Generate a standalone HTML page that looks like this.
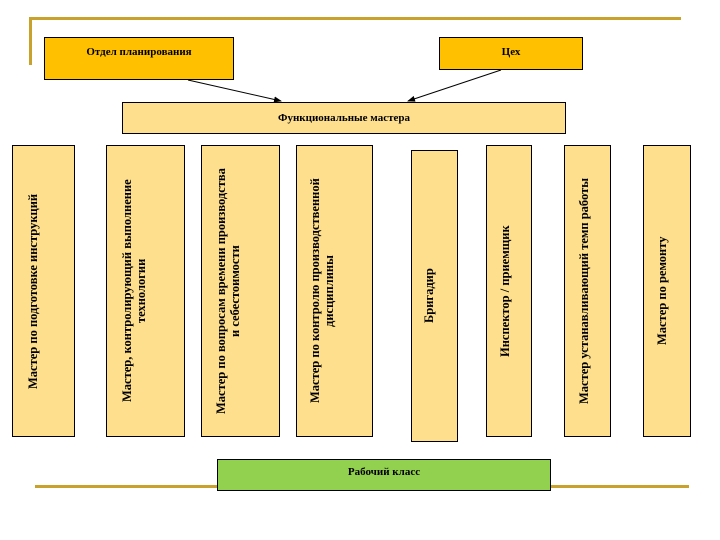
<!DOCTYPE html>
<html><head><meta charset="utf-8"><style>
body{margin:0;width:720px;height:540px;background:#fff;position:relative;overflow:hidden;font-family:"Liberation Serif",serif;}
.a{position:absolute;box-sizing:border-box;border:1px solid #000;}
.t{font-weight:bold;font-size:11px;color:#000;text-align:center;}
.c{position:absolute;box-sizing:border-box;border:1px solid #000;background:#FEDF8D;}
.v{position:absolute;top:0;bottom:0;writing-mode:vertical-rl;transform:rotate(180deg);text-align:center;font-weight:bold;font-size:12.5px;line-height:14px;display:flex;align-items:center;justify-content:center;}
.g{position:absolute;background:#C8A22C;}
</style></head><body>
<div class="g" style="left:30px;top:17px;width:651px;height:3px"></div>
<div class="g" style="left:29px;top:17px;width:3px;height:48px"></div>
<div class="g" style="left:35px;top:485px;width:654px;height:3px"></div>

<div class="a t" style="left:44px;top:37px;width:190px;height:43px;background:#FFC000;padding-top:8px">Отдел планирования</div>
<div class="a t" style="left:439px;top:37px;width:144px;height:33px;background:#FFC000;padding-top:8px">Цех</div>
<div class="a t" style="left:122px;top:102px;width:444px;height:32px;background:#FEDF8D;padding-top:9px">Функциональные мастера</div>

<svg style="position:absolute;left:0;top:0" width="720" height="540">
<defs><marker id="m" markerWidth="8" markerHeight="6" refX="7" refY="3" orient="auto"><path d="M0,0 L8,3 L0,6 z" fill="#000"/></marker></defs>
<line x1="188" y1="80" x2="281" y2="101" stroke="#000" stroke-width="1" marker-end="url(#m)"/>
<line x1="501" y1="70" x2="408" y2="101" stroke="#000" stroke-width="1" marker-end="url(#m)"/>
</svg>

<div class="c" style="left:12px;top:145px;width:63px;height:292px"><div class="v" style="left:10px;width:20px">Мастер по подготовке инструкций</div></div>
<div class="c" style="left:106px;top:145px;width:79px;height:292px"><div class="v" style="left:10px;width:34px">Мастер, контролирующий выполнение<br>технологии</div></div>
<div class="c" style="left:201px;top:145px;width:79px;height:292px"><div class="v" style="left:9px;width:34px">Мастер по вопросам времени производства<br>и себестоимости</div></div>
<div class="c" style="left:296px;top:145px;width:77px;height:292px"><div class="v" style="left:8px;width:34px">Мастер по контролю производственной<br>дисциплины</div></div>
<div class="c" style="left:411px;top:150px;width:47px;height:292px"><div class="v" style="left:7px;width:20px">Бригадир</div></div>
<div class="c" style="left:486px;top:145px;width:46px;height:292px"><div class="v" style="left:8px;width:20px">Инспектор / приемщик</div></div>
<div class="c" style="left:564px;top:145px;width:47px;height:292px"><div class="v" style="left:9px;width:20px">Мастер устанавливающий темп работы</div></div>
<div class="c" style="left:643px;top:145px;width:48px;height:292px"><div class="v" style="left:8px;width:20px">Мастер по ремонту</div></div>

<div class="a t" style="left:217px;top:459px;width:334px;height:32px;background:#92D050;padding-top:6px">Рабочий класс</div>
</body></html>
